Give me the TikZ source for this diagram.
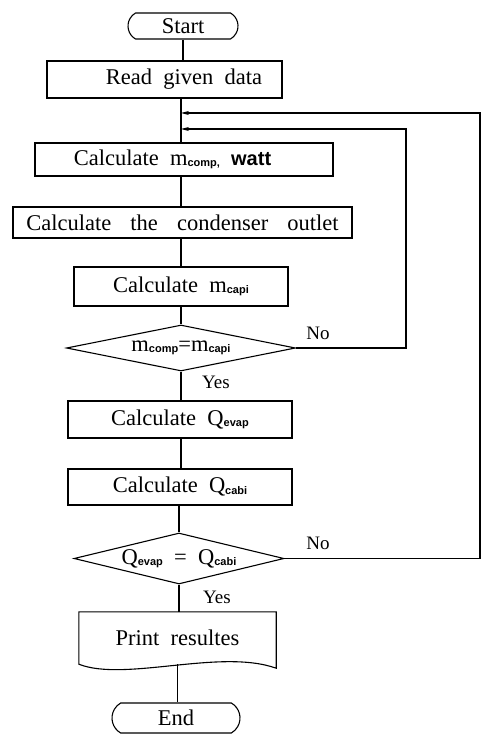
\documentclass[tikz,border=0pt]{standalone}
\usepackage{fontspec}
\setmainfont{Liberation Serif}
\setsansfont{Liberation Sans}
\usetikzlibrary{positioning, arrows.meta, shapes.geometric, shapes.misc}
\newcommand{\sbs}[1]{\raisebox{-1.5pt}{\fontsize{11}{11}\selectfont\sffamily\bfseries #1}}
\newcommand{\widesp}[1]{\spaceskip=#1em\relax}
\tikzset{
  every node/.style={font=\fontsize{22.5}{24}\selectfont, execute at begin node={\widesp{0.5}}},
  line/.style={line width=1.1pt},
  back/.style={line width=1.1pt, -{Stealth[length=8pt, width=4pt]}},
  box/.style={draw, line width=1.1pt, inner sep=0pt},
  term/.style={draw, rounded rectangle, rounded rectangle arc length=120, line width=1.1pt,
               inner sep=0pt, minimum height=26pt},
  dec/.style={draw, diamond, line width=1.1pt, inner sep=0pt, shape aspect=4},
  lbl/.style={font=\fontsize{19}{20}\selectfont},
}

\begin{document}
\begin{tikzpicture}[x=1pt, y=-1pt]
  \useasboundingbox (0,0) rectangle (486,735);
  % --- main column ---
  \coordinate (ax) at (181,0);
  \node[term, minimum width=110pt] (start) at (183,26) {Start};
  \node[box, minimum width=235pt, minimum height=37pt] (read) at (164.5,79.5) {\hspace*{39pt}Read given data};
  \coordinate (outer) at (181,113);
  \coordinate (inner) at (181,129);
  \node[box, minimum width=298pt, minimum height=33pt] (comp) at (184,159.5)
    {Calculate m\sbs{comp,} {\fontsize{20}{20}\selectfont\sffamily\bfseries watt}\hspace*{23pt}};
  \node[box, minimum width=339pt, minimum height=31pt] (cond) at (182.5,222.5)
    {\widesp{0.85}Calculate the condenser outlet};
  \node[box, minimum width=214pt, minimum height=39pt] (capi) at (181,286.5) {Calculate m\sbs{capi}};
  \node[dec, minimum width=229pt, minimum height=46pt] (dec1) at (181,348) {m\sbs{comp}=m\sbs{capi}};
  \node[box, minimum width=224pt, minimum height=37pt] (evap) at (180,419.5) {Calculate Q\sbs{evap}};
  \node[box, minimum width=224pt, minimum height=36pt] (cabi) at (180,487) {Calculate Q\sbs{cabi}};
  \node[dec, minimum width=210pt, minimum height=51pt] (dec2) at (179,558.5) {Q\sbs{evap} = Q\sbs{cabi}};
  \node[minimum width=197pt, minimum height=52pt, inner sep=0pt] (print) at (177.5,638) {Print resultes};
  \node[term, minimum width=128pt, minimum height=30pt] (end) at (176,718) {End};
  % document shape with wavy bottom
  \draw[line] (print.north west) -- (print.south west)
    .. controls +(46,18) and +(-56,-20) .. ([yshift=-4pt]print.south east)
    -- (print.north east) -- cycle;
  % --- connectors ---
  \draw[line] (start.south) -- (start.south |- read.north);
  \draw[line] (read.south -| ax) -- (comp.north -| ax);
  \draw[line] (comp.south -| ax) -- (cond.north -| ax);
  \draw[line] (cond.south -| ax) -- (capi.north -| ax);
  \draw[line] (capi.south -| ax) -- (dec1.north);
  \draw[line] (dec1.south) -- (evap.north -| dec1.south);
  \draw[line] (evap.south -| ax) -- (cabi.north -| ax);
  \draw[line] (cabi.south -| dec2) -- (dec2.north);
  \draw[line] (dec2.south) -- (print.north -| dec2.south);
  \draw[line] (print.south) -- (end.north -| print.south);
  % --- loops back ---
  \coordinate (rin) at (406,0);
  \coordinate (rout) at (480,0);
  \draw[back] (dec1.east) -| (rin |- inner) -- (inner);
  \draw[back] (dec2.east) -| (rout |- outer) -- (outer);
  \node[lbl] (no1) at (318,333) {No};
  \node[lbl] (yes1) at (216,382) {Yes};
  \node[lbl] (no2) at (318,543) {No};
  \node[lbl] (yes2) at (217,597) {Yes};
\end{tikzpicture}
\end{document}
